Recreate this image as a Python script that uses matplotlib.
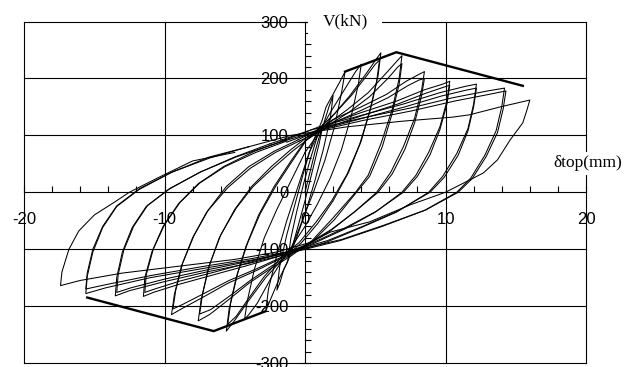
import matplotlib
matplotlib.use("Agg")
import matplotlib.pyplot as plt
from matplotlib.ticker import MultipleLocator, FixedLocator

plt.rcParams['axes.unicode_minus'] = False
plt.rcParams['font.family'] = ['Liberation Sans', 'DejaVu Sans']

# ---------------- data ----------------
x_ticks = [-20, -10, 0, 10, 20]
y_ticks = [-300, -200, -100, 0, 100, 200, 300]
x_label = "δtop(mm)"
y_label = "V(kN)"

c1_d = [0.0, 0.3, 0.7, 1.1, 1.3, 1.0, 0.5, 0.0, -0.5, -0.9, -1.2, -1.0, -0.6, -0.1, 0.4]
c1_v = [0, 30, 70, 105, 120, 85, 35, -15, -60, -95, -115, -80, -35, 15, 60]

c2_d = [0.4, 0.9, 1.3, 1.7, 2.0, 1.8, 1.3, 0.7, 0.1, -0.6, -1.2, -1.5, -1.8, -2.0, -1.8, -1.3, -0.7, -0.1, 0.5]
c2_v = [60, 100, 118, 150, 170, 130, 75, 20, -30, -80, -120, -135, -160, -172, -130, -75, -20, 35, 85]

c3_d = [0.5, 1.2, 1.5, 1.9, 2.5, 2.85, 2.6, 2.1, 1.4, 0.6, -0.2, -1.0, -1.3, -1.8, -2.4, -2.8, -2.6, -2.0, -1.3, -0.5, 0.3]
c3_v = [85, 125, 150, 168, 195, 212, 175, 115, 55, 0, -50, -100, -125, -150, -185, -209, -170, -110, -50, 10, 70]

c4_d = [0.3, 1.0, 1.8, 2.8, 3.6, 4.0, 3.8, 3.3, 2.6, 1.8, 0.9, 0.0, -0.8, -1.5, -2.4, -3.4, -4.0, -4.3, -4.1, -3.6, -2.9, -2.0, -1.0, 0.0]
c4_v = [70, 105, 140, 180, 212, 225, 190, 135, 75, 25, -20, -60, -90, -115, -150, -195, -215, -223, -190, -135, -80, -30, 20, 70]

c5_d = [0.0, 1.0, 2.0, 3.2, 4.4, 5.1, 5.4, 5.2, 4.7, 4.0, 3.1, 2.0, 0.9, -0.3, -1.5, -2.8, -4.0, -5.0, -5.6, -5.4, -4.9, -4.2, -3.3, -2.2, -1.0, 0.0]
c5_v = [70, 105, 135, 170, 210, 235, 245, 205, 150, 90, 35, -15, -55, -90, -115, -150, -190, -225, -244, -205, -150, -95, -40, 10, 55, 90]

c5b_d = [0.0, 1.0, 2.1, 3.3, 4.4, 5.0, 5.3, 5.1, 4.6, 3.9, 3.0, 1.9, 0.8, -0.4, -1.6, -2.9, -4.0, -4.9, -5.5, -5.3, -4.8, -4.1, -3.2, -2.1, -0.9, 0.0]
c5b_v = [90, 112, 138, 170, 205, 225, 232, 195, 142, 85, 32, -15, -52, -88, -112, -148, -186, -218, -232, -196, -143, -90, -38, 10, 55, 88]

c6_d = [0.0, 1.5, 3.0, 4.5, 5.8, 6.6, 6.9, 6.7, 6.2, 5.4, 4.5, 3.6, 2.0, 0.5, -1.0, -2.5, -4.0, -5.5, -6.8, -7.6, -7.4, -6.9, -6.1, -5.0, -3.8, -2.4, -1.0, 0.2]
c6_v = [90, 118, 145, 175, 210, 232, 240, 200, 145, 85, 30, 0, -45, -85, -112, -135, -160, -190, -215, -226, -190, -135, -80, -30, 10, 45, 75, 98]

c6b_d = [0.2, 1.6, 3.1, 4.6, 5.9, 6.6, 6.9, 6.7, 6.2, 5.5, 4.6, 3.5, 2.1, 0.6, -0.9, -2.4, -3.9, -5.4, -6.7, -7.5, -7.3, -6.8, -6.0, -4.9, -3.7, -2.3, -0.9, 0.3]
c6b_v = [98, 117, 140, 168, 200, 220, 226, 190, 138, 80, 28, -5, -48, -85, -108, -130, -155, -183, -206, -214, -180, -128, -75, -28, 10, 42, 72, 95]

c7_d = [0.2, 2.0, 4.0, 5.8, 7.2, 8.1, 8.5, 8.3, 7.8, 7.0, 6.1, 5.1, 3.5, 1.8, 0.0, -1.6, -3.5, -5.5, -7.3, -8.8, -9.5, -9.3, -8.8, -8.0, -7.0, -5.6, -4.0, -2.2, -0.5]
c7_v = [98, 128, 150, 172, 195, 207, 212, 180, 130, 80, 35, 0, -35, -68, -95, -115, -138, -160, -185, -205, -215, -180, -130, -80, -35, 10, 45, 72, 92]

c7b_d = [0.3, 2.1, 4.1, 5.9, 7.3, 8.1, 8.5, 8.3, 7.8, 7.1, 6.2, 5.2, 3.6, 1.9, 0.1, -1.5, -3.4, -5.4, -7.2, -8.7, -9.4, -9.2, -8.7, -7.9, -6.9, -5.5, -3.9, -2.1, -0.4]
c7b_v = [95, 123, 145, 166, 187, 197, 200, 170, 122, 75, 32, 0, -33, -65, -92, -112, -134, -155, -178, -197, -205, -172, -124, -76, -32, 8, 42, 70, 90]

c8_d = [-0.5, 1.5, 4.0, 6.5, 8.5, 9.8, 10.3, 10.1, 9.6, 8.8, 7.9, 6.9, 5.0, 2.8, 0.6, -1.5, -4.0, -6.5, -9.0, -10.8, -11.5, -11.4, -10.9, -10.1, -9.0, -7.6, -5.8, -3.6, -1.4]
c8_v = [92, 118, 140, 160, 180, 190, 195, 160, 115, 70, 30, 0, -35, -65, -90, -110, -128, -145, -162, -176, -183, -150, -105, -60, -20, 15, 45, 72, 92]

c8b_d = [-0.4, 1.6, 4.1, 6.6, 8.6, 9.8, 10.3, 10.1, 9.6, 8.9, 8.0, 7.0, 5.1, 2.9, 0.7, -1.4, -3.9, -6.4, -8.9, -10.7, -11.4, -11.3, -10.8, -10.0, -8.9, -7.5, -5.7, -3.5, -1.3]
c8b_v = [90, 114, 135, 155, 174, 184, 188, 155, 110, 66, 28, 0, -33, -62, -87, -106, -123, -140, -156, -170, -176, -145, -100, -57, -18, 16, 45, 70, 90]

c9_d = [-1.4, 1.0, 4.0, 7.0, 9.6, 11.4, 12.2, 12.0, 11.6, 10.8, 9.8, 8.8, 6.5, 4.0, 1.5, -1.2, -4.0, -7.0, -10.0, -12.5, -13.5, -13.4, -13.0, -12.3, -11.3, -9.7, -7.5, -5.0, -2.5]
c9_v = [92, 115, 135, 155, 175, 186, 190, 155, 112, 68, 28, 0, -35, -62, -88, -108, -125, -140, -157, -173, -182, -150, -105, -62, -25, 5, 35, 62, 85]

c9b_d = [-1.3, 1.1, 4.1, 7.1, 9.7, 11.4, 12.2, 12.0, 11.6, 10.9, 9.9, 8.9, 6.6, 4.1, 1.6, -1.1, -3.9, -6.9, -9.9, -12.4, -13.4, -13.3, -12.9, -12.2, -11.2, -9.6, -7.4, -4.9, -2.4]
c9b_v = [88, 110, 130, 150, 169, 179, 183, 150, 108, 65, 26, 0, -33, -60, -85, -104, -121, -136, -152, -168, -176, -145, -102, -60, -23, 7, 36, 62, 83]

c10_d = [-2.5, 0.5, 4.0, 7.5, 10.5, 13.0, 14.2, 14.0, 13.6, 12.8, 11.8, 10.8, 8.5, 5.5, 2.5, -0.8, -4.0, -7.5, -11.0, -14.2, -15.6, -15.5, -15.1, -14.4, -13.4, -11.8, -9.5, -6.8, -4.0]
c10_v = [85, 110, 130, 148, 166, 178, 183, 150, 108, 65, 25, 0, -32, -60, -85, -105, -120, -135, -150, -168, -178, -148, -105, -62, -25, 5, 35, 62, 80]

c10b_d = [-2.4, 0.6, 4.1, 7.6, 10.6, 13.1, 14.3, 14.1, 13.7, 12.9, 11.9, 10.9, 8.6, 5.6, 2.6, -0.7, -3.9, -7.4, -10.9, -14.1, -15.6, -15.5, -15.1, -14.4, -13.4, -11.8, -9.5, -6.8, -4.0]
c10b_v = [83, 106, 126, 143, 160, 172, 178, 146, 105, 63, 24, 0, -31, -58, -83, -102, -117, -131, -146, -162, -170, -142, -100, -60, -24, 6, 35, 60, 80]

c11_d = [-4.0, -1.0, 3.0, 7.0, 10.5, 11.7, 13.9, 16.0, 15.8, 15.5, 14.6, 13.7, 12.7, 10.0, 7.5, 4.6, 1.8, 0.4, -2.0, -5.0, -9.0, -13.0, -16.0, -17.4, -17.3, -16.8, -16.1, -15.0, -13.6, -12.5, -10.5, -8.0, -5.0]
c11_v = [80, 100, 115, 125, 132, 136, 150, 162, 145, 122, 92, 57, 34, 0, -22, -52, -70, -88, -105, -118, -130, -142, -155, -164, -140, -100, -68, -40, -18, 0, 25, 55, 70]

env_pos_d = [2.85, 6.5, 15.5]
env_pos_v = [212, 246, 187]
env_neg_d = [-2.8, -6.5, -15.5]
env_neg_v = [-209, -244, -185]

cycles = [(c1_d, c1_v), (c2_d, c2_v), (c3_d, c3_v), (c4_d, c4_v),
          (c5_d, c5_v), (c5b_d, c5b_v), (c6_d, c6_v), (c6b_d, c6b_v),
          (c7_d, c7_v), (c7b_d, c7b_v), (c8_d, c8_v), (c8b_d, c8b_v),
          (c9_d, c9_v), (c9b_d, c9b_v), (c10_d, c10_v), (c10b_d, c10b_v),
          (c11_d, c11_v)]

# ---------------- figure ----------------
fig = plt.figure(figsize=(6.33, 3.67), dpi=100)
ax = fig.add_axes([0.0379, 0.0109, 0.8879, 0.9305])
ax.set_xlim(-20, 20)
ax.set_ylim(-300, 300)

# grid / frame
for xv in x_ticks:
    if xv != 0:
        ax.plot([xv, xv], [y_ticks[0], y_ticks[-1]], color='black', lw=0.8, clip_on=False, zorder=1)
for yv in y_ticks:
    if yv != 0:
        ax.plot([x_ticks[0], x_ticks[-1]], [yv, yv], color='black', lw=0.8, clip_on=False, zorder=1)

for sp in ['top', 'right']:
    ax.spines[sp].set_visible(False)
ax.spines['left'].set_position(('data', 0))
ax.spines['bottom'].set_position(('data', 0))
ax.spines['left'].set_linewidth(0.8)
ax.spines['bottom'].set_linewidth(0.8)

ax.xaxis.set_major_locator(FixedLocator(x_ticks))
ax.xaxis.set_minor_locator(MultipleLocator(2))
ax.yaxis.set_major_locator(FixedLocator(y_ticks))
ax.yaxis.set_minor_locator(MultipleLocator(20))
ax.tick_params(axis='x', which='major', direction='in', length=4, width=0.8, pad=14, labelsize=12)
ax.tick_params(axis='x', which='minor', direction='in', length=4, width=0.8)
ax.tick_params(axis='y', which='major', direction='inout', length=8, width=0.8, pad=8, labelsize=12)
ax.tick_params(axis='y', which='minor', direction='in', length=4, width=0.8)
ax.set_xticklabels([str(t) for t in x_ticks])
ax.set_yticklabels([str(t) for t in y_ticks])

for d, v in cycles:
    ax.plot(d, v, color='black', lw=0.75, zorder=3)
ax.plot(env_pos_d, env_pos_v, color='black', lw=1.7, zorder=4)
ax.plot(env_neg_d, env_neg_v, color='black', lw=1.7, zorder=4)

ax.text(2.85, 300, y_label, ha='center', va='center', fontsize=12.5,
        family=['Liberation Serif', 'DejaVu Serif'], zorder=6, clip_on=False,
        bbox=dict(boxstyle='square,pad=0.85', facecolor='white', edgecolor='none'))
ax.text(17.7, 51, x_label, ha='left', va='center', fontsize=12.5,
        family=['Liberation Serif', 'DejaVu Serif'], zorder=6, clip_on=False,
        bbox=dict(boxstyle='square,pad=0.2', facecolor='white', edgecolor='none'))

fig.savefig("out.png", dpi=100)
